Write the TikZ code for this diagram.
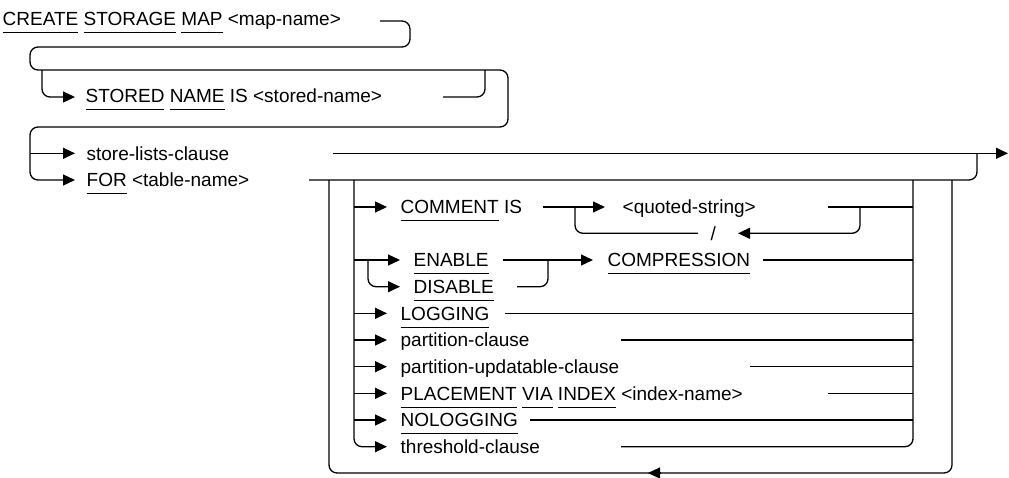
\documentclass[tikz,border=0pt]{standalone}
\usepackage{fontspec}
\setmainfont{Liberation Sans}
\usetikzlibrary{arrows.meta}
\newcommand\kw[1]{\setbox0\hbox{#1}\rlap{\rule[-7.6pt]{\wd0}{1.1pt}}\box0\relax}
\begin{document}
\begin{tikzpicture}[x=1pt,y=-1pt,line width=1.3pt,
  arr/.style={-{Triangle[length=12pt,width=11pt]}},
  lbl/.style={anchor=base west,inner sep=0pt,font=\fontsize{19}{22}\selectfont},
  rc/.style={rounded corners=8pt}]
\useasboundingbox (0,0) rectangle (1009,477);
% texts
\node[lbl] (create) at (2,25) {\kw{CREATE} \kw{STORAGE} \kw{MAP} <map-name>};
\node[lbl] (stored) at (85,102) {\kw{STORED} \kw{NAME} IS <stored-name>};
\node[lbl] (slc) at (86,160) {store-lists-clause};
\node[lbl] (for) at (86,186.5) {\kw{FOR} <table-name>};
\node[lbl] (cmt) at (400,213.5) {\kw{COMMENT} IS};
\node[lbl] (qs) at (622,213.5) {<quoted-string>};
\node[lbl] (slash) at (710,240) {/};
\node[lbl] (en) at (413,266.5) {\kw{ENABLE}};
\node[lbl] (dis) at (413,293) {\kw{DISABLE}};
\node[lbl] (comp) at (607,266.5) {\kw{COMPRESSION}};
\node[lbl] (log) at (400,320) {\kw{LOGGING}};
\node[lbl] (pc) at (400,346.5) {partition-clause};
\node[lbl] (puc) at (400,373) {partition-updatable-clause};
\node[lbl] (pvi) at (400,400) {\kw{PLACEMENT} \kw{VIA} \kw{INDEX} <index-name>};
\node[lbl] (nolog) at (400,426.5) {\kw{NOLOGGING}};
\node[lbl] (thr) at (400,453) {threshold-clause};
% coordinates of the top part
\coordinate (h0) at (380,21);
\coordinate (h1) at (410,21);
\coordinate (h2) at (410,47);
\coordinate (h3) at (30,47);
\coordinate (h4) at (30,70);
\coordinate (h5) at (508,70);
\coordinate (h6) at (508,127);
\coordinate (h7) at (30,127);
\coordinate (h8) at (30,180);
\coordinate (forTip) at (75,180);
\coordinate (sb0) at (42,70);
\coordinate (sb1) at (42,97);
\coordinate (sbTip) at (75,97);
\coordinate (se0) at (443,97);
\coordinate (se1) at (485,97);
\coordinate (se2) at (485,70);
\coordinate (sl0) at (30,153.3);
\coordinate (slTip) at (75,153.3);
\coordinate (m0) at (333,153.3);
\coordinate (mEnd) at (1008,153.3);
\coordinate (f0) at (309,180);
\coordinate (f1) at (977,180);
\coordinate (f2) at (977,153.3);
% loops
\coordinate (o0) at (329,180);
\coordinate (o1) at (329,473);
\coordinate (o2) at (952,473);
\coordinate (o3) at (952,180);
\coordinate (oa0) at (661,473);
\coordinate (oa1) at (648,473);
\coordinate (i0) at (354,180);
\coordinate (i1) at (354,446.7);
\coordinate (thrTip) at (387,446.7);
\coordinate (j0) at (913,180);
\coordinate (j1) at (913,446.7);
\coordinate (thrEnd) at (621,446.7);
% option rows
\coordinate (cmtA) at (354,207); \coordinate (cmtTip) at (387,207);
\coordinate (c1) at (543,207); \coordinate (qsTip) at (605,207);
\coordinate (c2) at (575,207); \coordinate (c3) at (575,233.3); \coordinate (c4) at (698,233.3);
\coordinate (c5) at (828,207); \coordinate (c6) at (913,207);
\coordinate (c7) at (860,207); \coordinate (c8) at (860,233.3); \coordinate (c9) at (738,233.3);
\coordinate (enA) at (354,260); \coordinate (enTip) at (400,260);
\coordinate (d0) at (368,260); \coordinate (d1) at (368,286.7); \coordinate (disTip) at (400,286.7);
\coordinate (e1) at (503,260); \coordinate (compTip) at (593,260);
\coordinate (e2) at (517,286.7); \coordinate (e3) at (548,286.7); \coordinate (e4) at (548,260);
\coordinate (e5) at (763,260); \coordinate (e6) at (913,260);
\coordinate (logA) at (354,313.3); \coordinate (logTip) at (387,313.3);
\coordinate (logE) at (505,313.3); \coordinate (logF) at (913,313.3);
\coordinate (pcA) at (354,340); \coordinate (pcTip) at (387,340);
\coordinate (pcE) at (621,340); \coordinate (pcF) at (913,340);
\coordinate (pucA) at (354,366.7); \coordinate (pucTip) at (387,366.7);
\coordinate (pucE) at (750,366.7); \coordinate (pucF) at (913,366.7);
\coordinate (pviA) at (354,393.3); \coordinate (pviTip) at (387,393.3);
\coordinate (pviE) at (828,393.3); \coordinate (pviF) at (913,393.3);
\coordinate (nlA) at (354,420); \coordinate (nlTip) at (387,420);
\coordinate (nlE) at (530,420); \coordinate (nlF) at (913,420);
% connectors
\draw[rc,arr] (h0) -- (h1) -- (h2) -- (h3) -- (h4) -- (h5) -- (h6) -- (h7) -- (h8) -- (forTip);
\draw[rc,arr] (sb0) -- (sb1) -- (sbTip);
\draw[rc] (se0) -- (se1) -- (se2);
\draw[arr] (sl0) -- (slTip);
\draw[arr] (m0) -- (mEnd);
\draw[rc] (f0) -- (f1) -- (f2);
\draw[rc] (o0) -- (o1) -- (o2) -- (o3);
\draw[arr] (oa0) -- (oa1);
\draw[rc,arr] (i0) -- (i1) -- (thrTip);
\draw[rc] (j0) -- (j1) -- (thrEnd);
\draw[arr] (cmtA) -- (cmtTip);
\draw[arr] (c1) -- (qsTip);
\draw[rc] (c2) -- (c3) -- (c4);
\draw (c5) -- (c6);
\draw[rc,arr] (c7) -- (c8) -- (c9);
\draw[arr] (enA) -- (enTip);
\draw[rc,arr] (d0) -- (d1) -- (disTip);
\draw[arr] (e1) -- (compTip);
\draw[rc] (e2) -- (e3) -- (e4);
\draw (e5) -- (e6);
\draw[arr] (logA) -- (logTip); \draw (logE) -- (logF);
\draw[arr] (pcA) -- (pcTip); \draw (pcE) -- (pcF);
\draw[arr] (pucA) -- (pucTip); \draw (pucE) -- (pucF);
\draw[arr] (pviA) -- (pviTip); \draw (pviE) -- (pviF);
\draw[arr] (nlA) -- (nlTip); \draw (nlE) -- (nlF);
\end{tikzpicture}
\end{document}
